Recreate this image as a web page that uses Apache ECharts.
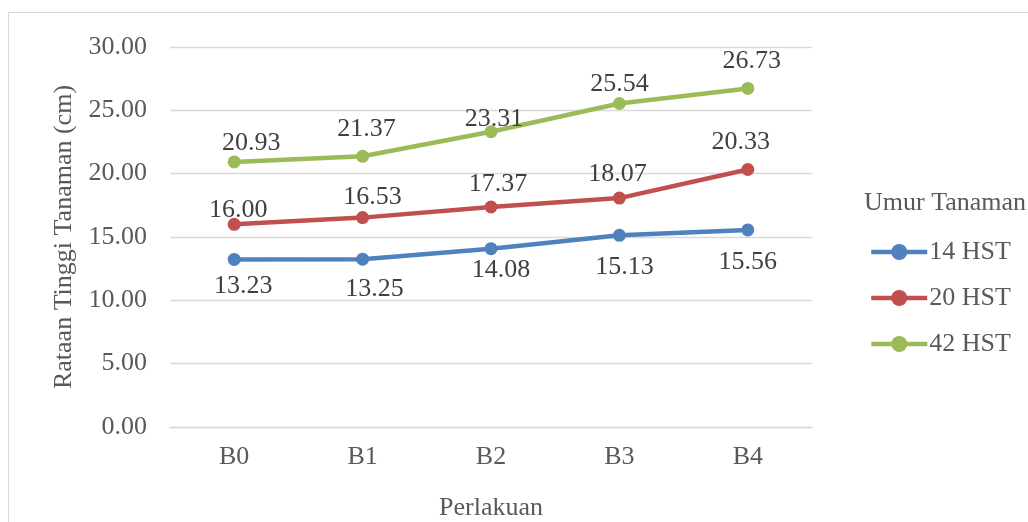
<!DOCTYPE html>
<html>
<head>
<meta charset="utf-8">
<script src="https://cdn.jsdelivr.net/npm/echarts@6/dist/echarts.min.js"></script>
<style>
  html, body { margin: 0; padding: 0; background: #fff; }
  #chart { width: 1028px; height: 522px; }
</style>
</head>
<body>
<div id="chart"></div>
<script>
// Plant height by treatment, measured at three plant ages
const categories = ['B0', 'B1', 'B2', 'B3', 'B4'];
const seriesNames = ['14 HST', '20 HST', '42 HST'];
const hst14 = [13.23, 13.25, 14.08, 15.13, 15.56];
const hst20 = [16.00, 16.53, 17.37, 18.07, 20.33];
const hst42 = [20.93, 21.37, 23.31, 25.54, 26.73];
const yTicks = [0, 5, 10, 15, 20, 25, 30];

// label placement tweaks [dx, dy] relative to each point
const labelShift = [
  [[9, 27], [12, 30], [10, 22], [5, 32], [0, 32]],
  [[4, -14], [10, -20], [7, -23], [-2, -24], [-7, -27]],
  [[17, -19], [4, -27], [3, -13], [0, -19], [4, -27]]
];
const colors = ['#4F81BD', '#C0504D', '#9BBB59'];
const FONT = '"Liberation Serif", "Times New Roman", serif';

const values = [hst14, hst20, hst42];

const chart = echarts.init(document.getElementById('chart'), null, { renderer: 'canvas' });

const series = values.map((vals, s) => ({
  name: seriesNames[s],
  type: 'line',
  symbol: 'circle',
  symbolSize: 13,
  color: colors[s],
  lineStyle: { width: 4.5, color: colors[s] },
  itemStyle: { color: colors[s] },
  emphasis: { disabled: true },
  data: vals.map((v, i) => ({
    value: v,
    label: {
      show: true,
      position: 'inside',
      offset: labelShift[s][i],
      formatter: (p) => p.value.toFixed(2),
      color: '#404040',
      fontFamily: FONT,
      fontSize: 26
    }
  })),
  z: 3 + s
}));

chart.setOption({
  animation: false,
  backgroundColor: '#ffffff',
  graphic: [{
    type: 'rect',
    shape: { x: 8.5, y: 12.5, width: 1100, height: 600 },
    style: { fill: 'none', stroke: '#D9D9D9', lineWidth: 1 },
    silent: true
  }],
  title: {
    text: 'Umur Tanaman',
    left: 864,
    top: 190,
    padding: 0,
    textStyle: { fontFamily: FONT, fontSize: 26, fontWeight: 'normal', color: '#595959' }
  },
  legend: {
    orient: 'vertical',
    left: 869,
    top: 239,
    padding: 0,
    itemWidth: 56,
    itemHeight: 20,
    itemGap: 20,
    data: seriesNames,
    lineStyle: { width: 4.5 },
    textStyle: { fontFamily: FONT, fontSize: 26, color: '#595959', padding: [0, 0, 0, -3] }
  },
  grid: { left: 170, right: 216, top: 47, bottom: 95, outerBoundsMode: 'none' },
  xAxis: {
    type: 'category',
    data: categories,
    boundaryGap: true,
    name: 'Perlakuan',
    nameLocation: 'middle',
    nameGap: 68,
    nameTextStyle: { fontFamily: FONT, fontSize: 26, color: '#595959' },
    axisLine: { show: true, lineStyle: { color: '#D9D9D9', width: 1.3 } },
    axisTick: { show: false },
    axisLabel: { margin: 17, fontFamily: FONT, fontSize: 26, color: '#595959' }
  },
  yAxis: {
    type: 'value',
    min: yTicks[0],
    max: yTicks[yTicks.length - 1],
    interval: yTicks[1] - yTicks[0],
    name: 'Rataan Tinggi Tanaman (cm)',
    nameLocation: 'middle',
    nameGap: 92,
    nameRotate: 90,
    nameTextStyle: { fontFamily: FONT, fontSize: 26, color: '#595959' },
    axisLine: { show: false },
    axisTick: { show: false },
    splitLine: { lineStyle: { color: '#D9D9D9', width: 1.3 } },
    axisLabel: {
      margin: 23,
      fontFamily: FONT,
      fontSize: 26,
      color: '#595959',
      formatter: (v) => v.toFixed(2)
    }
  },
  series: series
});
</script>
</body>
</html>
